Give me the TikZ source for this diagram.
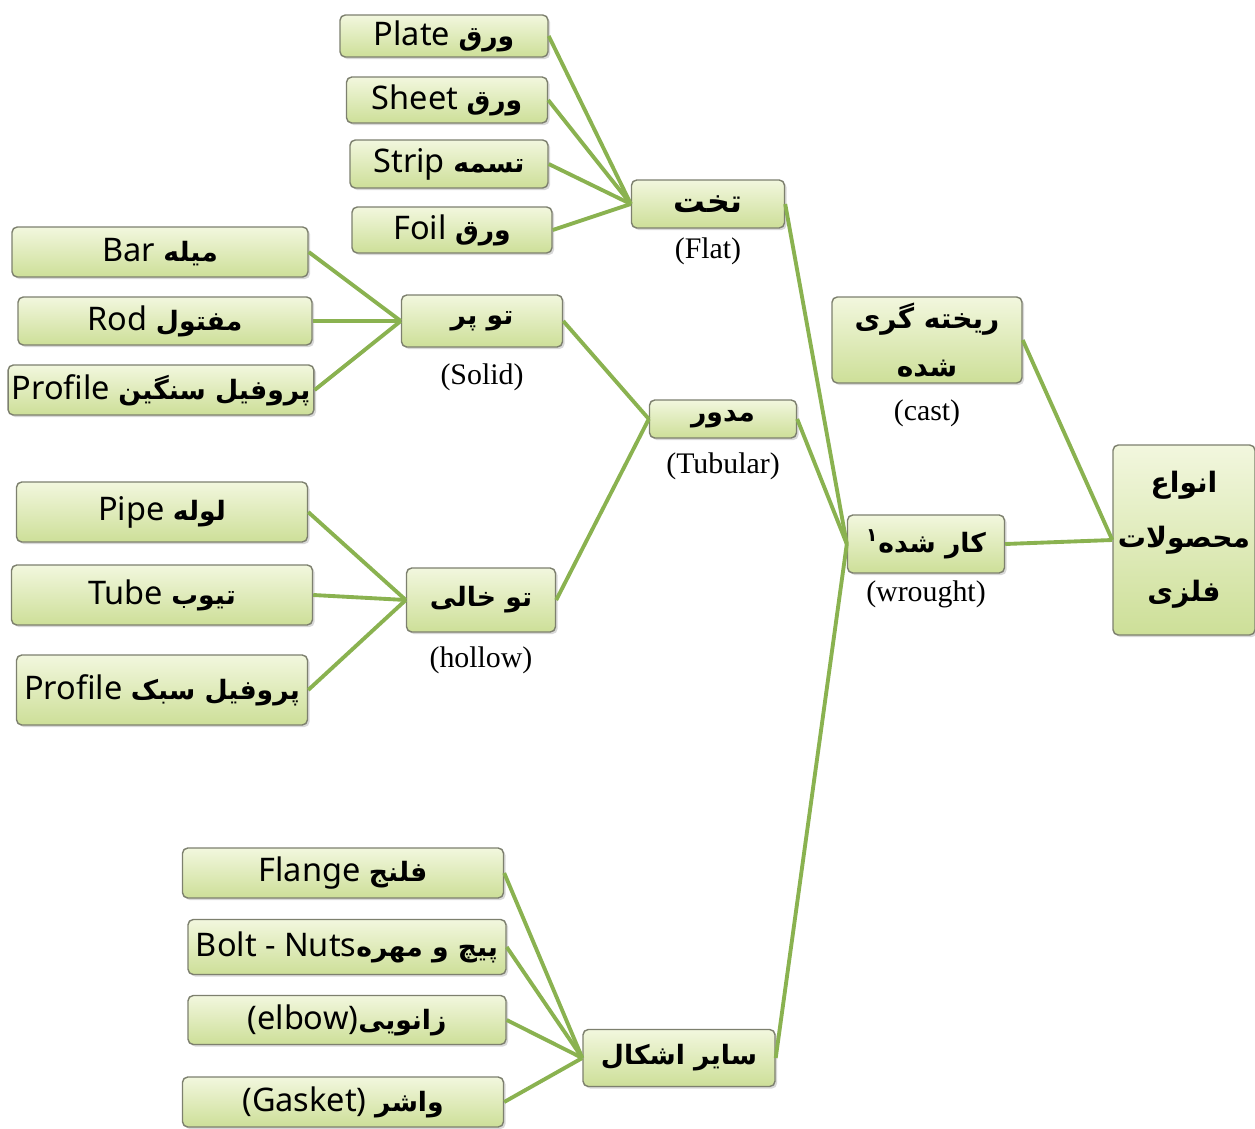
\documentclass[tikz,border=0pt]{standalone}
\usepackage{fontspec}
\usetikzlibrary{positioning,shadows}
\TeXXeTstate=1
\newfontfamily\latinfont{Noto Sans}
\newfontfamily\tagfont{Liberation Serif}
\newfontfamily\persianfont[Script=Arabic, Scale=0.82]{DejaVu Sans}
\newcommand{\faword}[1]{{\persianfont\bfseries\beginR #1\endR}}

\definecolor{linkgreen}{RGB}{138,178,80}
\definecolor{boxtop}{RGB}{242,247,222}
\definecolor{boxbottom}{RGB}{205,223,152}
\definecolor{boxline}{RGB}{125,128,110}

\tikzset{
    prodbox/.style={draw=boxline, line width=0.8pt, rounded corners=3pt,
        top color=boxtop, bottom color=boxbottom, inner sep=2pt,
        drop shadow={shadow xshift=1.2pt, shadow yshift=-1.2pt, fill=black!30}},
    boxsize/.style args={#1 by #2}{minimum width=#1*0.02cm, minimum height=#2*0.02cm},
    leafbox/.style={prodbox, font=\latinfont\fontsize{18.5}{22}\selectfont},
    midbox/.style={prodbox, font=\persianfont\bfseries\fontsize{18.5}{22}\selectfont},
    mainbox/.style={prodbox, align=center, font=\persianfont\bfseries\fontsize{19.5}{31}\selectfont},
    tagtext/.style={font=\tagfont\fontsize{17}{20}\selectfont, inner sep=0pt},
    link/.style={draw=linkgreen, line width=2.2pt}
}

\begin{document}
\begin{tikzpicture}[x=0.02cm, y=-0.02cm]

            \useasboundingbox (0,0) rectangle (1255,1129);

            \node[leafbox, boxsize=208 by 42] (plate) at (444,36) {Plate \faword{ورق}};
            \node[leafbox, boxsize=201 by 46] (sheet) at (447,100) {Sheet \faword{ورق}};
            \node[leafbox, boxsize=198 by 48] (strip) at (449,164) {Strip \faword{تسمه}};
            \node[leafbox, boxsize=200 by 46] (foil) at (452,230) {Foil \faword{ورق}};

            \node[leafbox, boxsize=296 by 50] (bar) at (160,252) {Bar \faword{میله}};
            \node[leafbox, boxsize=294 by 48] (rod) at (165,321) {Rod \faword{مفتول}};
            \node[leafbox, boxsize=298 by 50] (heavyprofile) at (161,390) {Profile \faword{پروفیل سنگین}};

            \node[leafbox, boxsize=291 by 60] (pipe) at (162,512) {Pipe \faword{لوله}};
            \node[leafbox, boxsize=301 by 60] (tube) at (162,595) {Tube \faword{تیوب}};
            \node[leafbox, boxsize=291 by 70] (lightprofile) at (162,690) {Profile \faword{پروفیل سبک}};

            \node[leafbox, boxsize=321 by 50] (flange) at (343,873) {Flange \faword{فلنج}};
            \node[leafbox, boxsize=318 by 55] (bolt) at (347,947) {Bolt - Nuts\faword{پیچ و مهره}};
            \node[leafbox, boxsize=318 by 49] (elbow) at (347,1020) {(elbow)\faword{زانویی}};
            \node[leafbox, boxsize=321 by 50] (gasket) at (343,1102) {(Gasket) \faword{واشر}};

            \node[midbox, boxsize=153 by 48, font=\persianfont\bfseries\fontsize{22}{26}\selectfont] (flat) at (708,204) {\faword{تخت}};
            \node[midbox, boxsize=161 by 52] (solid) at (482,321) {\faword{تو پر}};
            \node[midbox, boxsize=147 by 38] (tubular) at (723,419) {\faword{مدور}};
            \node[midbox, boxsize=149 by 64] (hollow) at (481,600) {\faword{تو خالی}};
            \node[midbox, boxsize=192 by 57] (other) at (679,1058) {\faword{سایر اشکال}};

            \node[mainbox, boxsize=190 by 86] (cast) at (927,340) {\faword{ریخته گری}\\[-4pt]\faword{شده}};
            \node[midbox, boxsize=157 by 58] (wrought) at (926,544) {\faword{کار شده\textsuperscript{۱}}};
            \node[mainbox, boxsize=142 by 190] (metal) at (1184,540) {\faword{انواع}\\\faword{محصولات}\\\faword{فلزی}};

            \node[tagtext, below=5pt of flat] (flatlabel) {(Flat)};
            \node[tagtext, below=9pt of solid] (solidlabel) {(Solid)};
            \node[tagtext, below=8pt of tubular] (tubularlabel) {(Tubular)};
            \node[tagtext, below=8pt of hollow] (hollowlabel) {(hollow)};
            \node[tagtext, below=9pt of cast] (castlabel) {(cast)};
            \node[tagtext, below=4pt of wrought] (wroughtlabel) {(wrought)};

            \draw[link] (plate.east) -- (flat.west);
            \draw[link] (sheet.east) -- (flat.west);
            \draw[link] (strip.east) -- (flat.west);
            \draw[link] (foil.east) -- (flat.west);

            \draw[link] (bar.east) -- (solid.west);
            \draw[link] (rod.east) -- (solid.west);
            \draw[link] (heavyprofile.east) -- (solid.west);

            \draw[link] (pipe.east) -- (hollow.west);
            \draw[link] (tube.east) -- (hollow.west);
            \draw[link] (lightprofile.east) -- (hollow.west);

            \draw[link] (flange.east) -- (other.west);
            \draw[link] (bolt.east) -- (other.west);
            \draw[link] (elbow.east) -- (other.west);
            \draw[link] (gasket.east) -- (other.west);

            \draw[link] (solid.east) -- (tubular.west);
            \draw[link] (hollow.east) -- (tubular.west);

            \draw[link] (flat.east) -- (wrought.west);
            \draw[link] (tubular.east) -- (wrought.west);
            \draw[link] (other.east) -- (wrought.west);

            \draw[link] (cast.east) -- (metal.west);
            \draw[link] (wrought.east) -- (metal.west);

        \end{tikzpicture}
\end{document}
